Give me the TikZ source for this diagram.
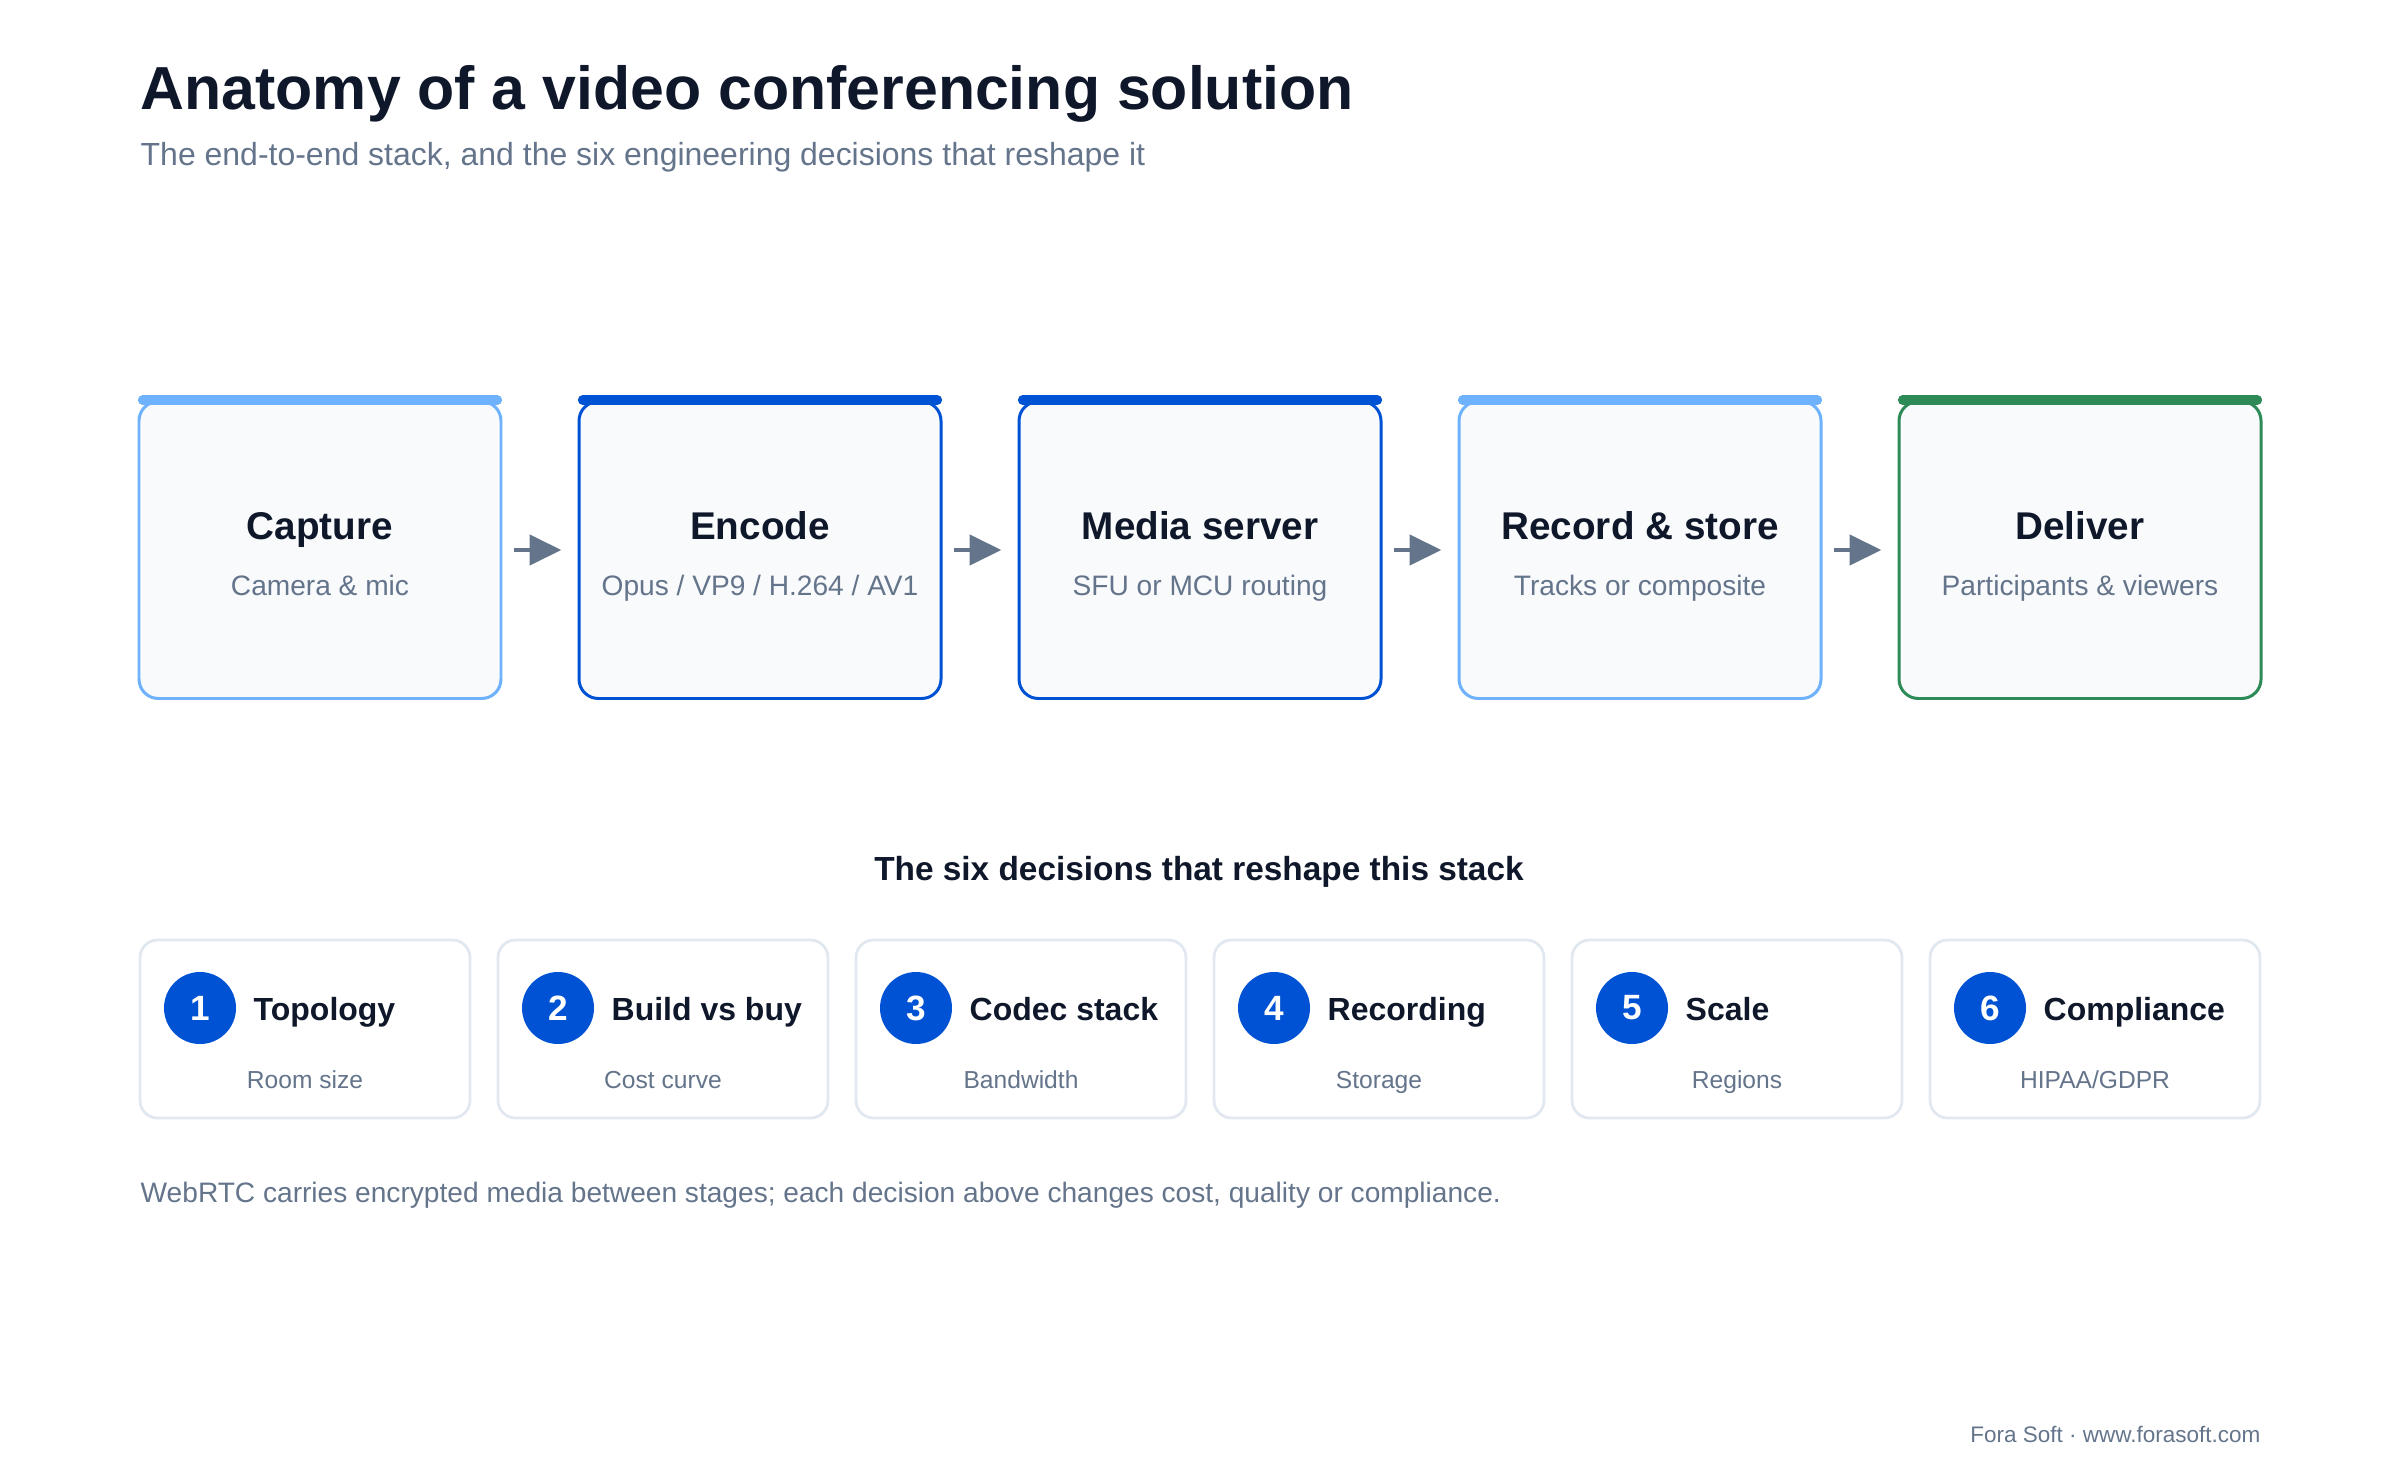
\documentclass[tikz,border=0pt]{standalone}
\usepackage{fontspec}
\setmainfont{Liberation Sans}
\usetikzlibrary{arrows.meta}
\usetikzlibrary{positioning}
\definecolor{ink}{HTML}{0F172A}
\definecolor{muted}{HTML}{64748B}
\definecolor{lightblue}{HTML}{6EB1FC}
\definecolor{deepblue}{HTML}{0052D4}
\definecolor{green}{HTML}{2E8B57}
\definecolor{panel}{HTML}{F8FAFC}
\definecolor{rim}{HTML}{E2E8F0}
\tikzstyle{stage} = [draw, fill=panel, rectangle, rounded corners=5.5pt,
    line width=0.85pt, minimum width=3.62cm, minimum height=2.97cm]
\tikzstyle{stagetitle} = [text=ink, anchor=base, font=\fontsize{11}{13}\selectfont\bfseries]
\tikzstyle{stagesub} = [text=muted, anchor=base, font=\fontsize{8}{10}\selectfont]
\tikzstyle{decision} = [draw=rim, fill=white, rectangle, rounded corners=5pt,
    line width=0.8pt, minimum width=3.3cm, minimum height=1.78cm]
\tikzstyle{badge} = [circle, fill=deepblue, minimum size=0.72cm, inner sep=0pt,
    text=white, font=\fontsize{10}{12}\selectfont\bfseries]
\tikzstyle{dtitle} = [text=ink, anchor=base west, inner sep=0pt,
    font=\fontsize{9.1}{11}\selectfont\bfseries]
\tikzstyle{dsub} = [text=muted, anchor=base, font=\fontsize{7}{8}\selectfont]
\tikzstyle{flow} = [-{Triangle[length=9pt,width=8.5pt]}, draw=muted, line width=1.2pt,
    shorten <=3.3pt, shorten >=4.6pt]

\begin{document}
\begin{tikzpicture}[x=0.1mm, y=-0.1mm]
    \useasboundingbox (0,0) rectangle (2400,1480);

    % Heading
    \node[anchor=base west, inner sep=0pt, text=ink,
        font=\fontsize{17.3}{20}\selectfont\bfseries] (title) at (140,110)
        {Anatomy of a video conferencing solution};
    \node[anchor=base west, inner sep=0pt, text=muted,
        font=\fontsize{9.1}{11}\selectfont] (subtitle) at (140,166)
        {The end-to-end stack, and the six engineering decisions that reshape it};

    % The stages of the stack
    \foreach \i/\col/\name/\head/\sub in {
        0/lightblue/capture/Capture/Camera \& mic,
        1/deepblue/encode/Encode/{Opus / VP9 / H.264 / AV1},
        2/deepblue/server/Media server/SFU or MCU routing,
        3/lightblue/record/Record \& store/Tracks or composite,
        4/green/deliver/Deliver/Participants \& viewers} {
        \node[stage, draw=\col] (\name) at (320+\i*440,550) {};
        \draw[\col, line width=2.8pt, line cap=round]
            ([xshift=1.5pt]\name.north west) -- ([xshift=-1.5pt]\name.north east);
        \node[stagetitle] (\name-head) at (320+\i*440,539) {\head};
        \node[stagesub] (\name-sub) at (320+\i*440,595) {\sub};
    }

    \draw[flow] (capture) -- (encode);
    \draw[flow] (encode) -- (server);
    \draw[flow] (server) -- (record);
    \draw[flow] (record) -- (deliver);

    % Decisions
    \node[text=ink, anchor=base, font=\fontsize{9.5}{11}\selectfont\bfseries] (decisions)
        at (1199,880) {The six decisions that reshape this stack};

    \foreach \i/\name/\head/\sub in {
        1/topology/Topology/Room size,
        2/build/Build vs buy/Cost curve,
        3/codec/Codec stack/Bandwidth,
        4/recording/Recording/Storage,
        5/scale/Scale/Regions,
        6/compliance/Compliance/{HIPAA/GDPR}} {
        \node[decision] (\name) at (305+\i*358-358,1029) {};
        \node[badge] (\name-num) at (200+\i*358-358,1008) {\i};
        \node[dtitle] (\name-head) at (253+\i*358-358,1020) {\head};
        \node[dsub] (\name-sub) at (305+\i*358-358,1088) {\sub};
    }

    % Footer
    \node[anchor=base west, inner sep=0pt, text=muted,
        font=\fontsize{8}{9}\selectfont] (note) at (140,1202)
        {WebRTC carries encrypted media between stages; each decision above changes cost, quality or compliance.};
    \node[anchor=base east, inner sep=0pt, text=muted,
        font=\fontsize{6.4}{8}\selectfont] (credit) at (2261,1442)
        {Fora Soft · www.forasoft.com};
\end{tikzpicture}
\end{document}
